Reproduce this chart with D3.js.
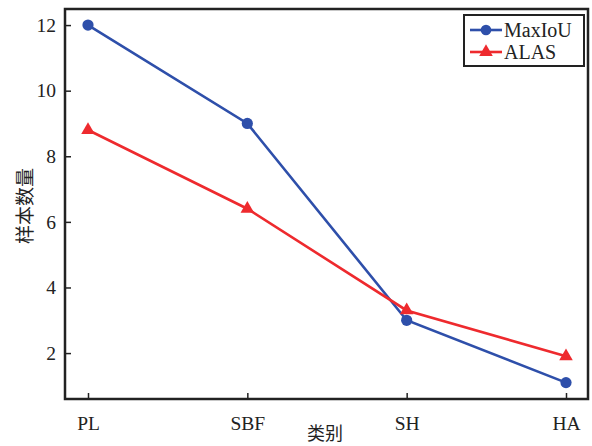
<!DOCTYPE html>
<html>
<head>
<meta charset="utf-8">
<script src="https://cdn.jsdelivr.net/npm/d3@7"></script>
<style>
  html, body { margin: 0; padding: 0; background: #fff; }
  svg { display: block; }
  .tick text { font-family: "Liberation Serif", "Times New Roman", serif; font-size: 19.5px; fill: #222; }
</style>
</head>
<body>
<svg id="chart" width="592" height="446"></svg>
<script>
// Category names along the x axis
const categories = ["PL", "SBF", "SH", "HA"];
// Sample counts per category for each method
const maxIoU = [12, 9, 3, 1.1];
const alas = [8.8, 6.4, 3.3, 1.9];
const yTicks = [2, 4, 6, 8, 10, 12];
const seriesNames = ["MaxIoU", "ALAS"];

const svg = d3.select("#chart");
const margin = { left: 65, top: 9, right: 3, bottom: 47 };
const W = 592, H = 446;
const x0 = margin.left, x1 = W - margin.right;
const y0 = H - margin.bottom, y1 = margin.top;

const x = d3.scalePoint().domain(categories).range([88, 566]);
const y = d3.scaleLinear().domain([0.6, 12.49]).range([y0, y1]);

const blue = "#2e4faa";
const red = "#ee2a2e";

// Axes with inward ticks
const xAxis = d3.axisBottom(x).tickSize(-6).tickPadding(17);
const yAxis = d3.axisLeft(y).tickValues(yTicks).tickSize(-6).tickPadding(9);

const gx = svg.append("g").attr("transform", `translate(0,${y0})`).call(xAxis);
const gy = svg.append("g").attr("transform", `translate(${x0},0)`).call(yAxis);
[gx, gy].forEach(g => {
  g.select(".domain").remove();
  g.selectAll(".tick line").attr("stroke", "#222").attr("stroke-width", 1.5);
});

// Plot frame
svg.append("rect")
  .attr("x", x0).attr("y", y1)
  .attr("width", x1 - x0 - 1).attr("height", y0 - y1)
  .attr("fill", "none").attr("stroke", "#222").attr("stroke-width", 2.5);

const line = d3.line().x((d, i) => x(categories[i])).y(d => y(d));

// MaxIoU series
svg.append("path").datum(maxIoU).attr("d", line)
  .attr("fill", "none").attr("stroke", blue).attr("stroke-width", 2.6);
svg.selectAll(".pt-max").data(maxIoU).enter().append("circle")
  .attr("cx", (d, i) => x(categories[i])).attr("cy", d => y(d))
  .attr("r", 5.6).attr("fill", blue);

// ALAS series
const tri = d3.symbol().type(d3.symbolTriangle).size(80);
svg.append("path").datum(alas).attr("d", line)
  .attr("fill", "none").attr("stroke", red).attr("stroke-width", 2.6);
svg.selectAll(".pt-alas").data(alas).enter().append("path")
  .attr("d", tri)
  .attr("transform", (d, i) => `translate(${x(categories[i])},${y(d)})`)
  .attr("fill", red);

// Legend
const lg = svg.append("g");
lg.append("rect").attr("x", 464).attr("y", 15).attr("width", 120).attr("height", 51)
  .attr("fill", "#fff").attr("stroke", "#222").attr("stroke-width", 2);
const colors = [blue, red];
seriesNames.forEach((name, i) => {
  const cy = 30 + i * 22;
  lg.append("line").attr("x1", 470).attr("x2", 502).attr("y1", cy).attr("y2", cy)
    .attr("stroke", colors[i]).attr("stroke-width", 2.6);
  if (i === 0) {
    lg.append("circle").attr("cx", 486).attr("cy", cy).attr("r", 5.3).attr("fill", blue);
  } else {
    lg.append("path").attr("d", tri).attr("transform", `translate(486,${cy})`).attr("fill", red);
  }
  lg.append("text").attr("x", 504).attr("y", cy + 7)
    .attr("font-family", "'Liberation Serif', 'Times New Roman', serif")
    .attr("font-size", 20).attr("fill", "#222").text(name);
});

// Axis titles
svg.append("text").attr("x", 325).attr("y", 440).attr("text-anchor", "middle")
  .attr("font-family", "'Noto Sans CJK SC', sans-serif").attr("font-size", 18)
  .attr("fill", "#222").text("类别");
svg.append("text").attr("transform", "translate(32,206) rotate(-90)").attr("text-anchor", "middle")
  .attr("font-family", "'Noto Sans CJK SC', sans-serif").attr("font-size", 19)
  .attr("fill", "#222").text("样本数量");
</script>
</body>
</html>
